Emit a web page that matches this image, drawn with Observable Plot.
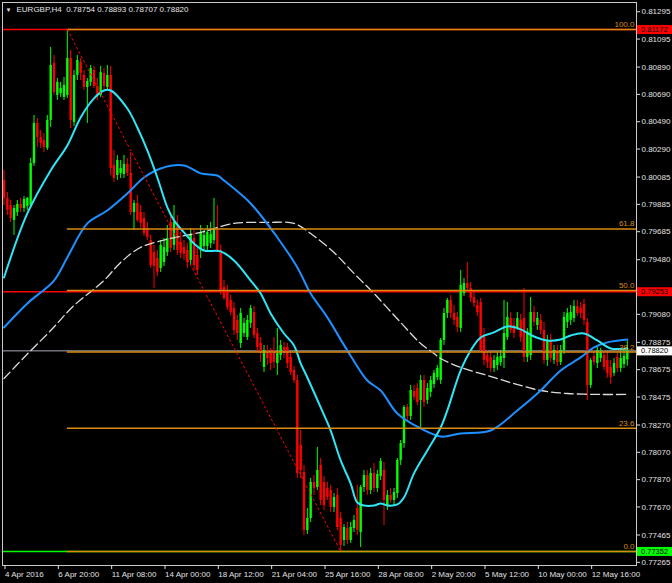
<!DOCTYPE html>
<html><head><meta charset="utf-8">
<script src="https://cdn.jsdelivr.net/npm/d3@7"></script>
<script src="https://cdn.jsdelivr.net/npm/@observablehq/plot@0.6"></script>
<style>
html,body{margin:0;padding:0;background:#000;}
#chart{width:672px;height:583px;overflow:hidden;}
</style></head><body><div id="chart"></div>
<script>
const symbol = "EURGBP";
const timeframe = "H4";

const open = [0.80067,0.79936,0.79884,0.79775,0.79833,0.79892,0.79862,0.79877,0.79884,0.80192,
0.80485,0.80382,0.80360,0.80302,0.80507,0.80924,0.80690,0.80704,0.80675,0.80690,
0.80960,0.80492,0.80836,0.80931,0.80836,0.80748,0.80785,0.80873,0.80755,0.80690,
0.80851,0.80748,0.80836,0.80177,0.80104,0.80119,0.80111,0.80185,0.80119,0.79833,
0.79899,0.79833,0.79789,0.79716,0.79628,0.79540,0.79496,0.79423,0.79467,0.79540,
0.79760,0.79592,0.79731,0.79614,0.79577,0.79555,0.79482,0.79643,0.79518,0.79555,
0.79584,0.79584,0.79606,0.79628,0.79701,0.79555,0.79284,0.79262,0.79189,0.79130,
0.79043,0.78874,0.78947,0.78918,0.79021,0.79101,0.78947,0.78874,0.78699,0.78823,
0.78801,0.78823,0.78728,0.78786,0.78845,0.78845,0.78772,0.78677,0.78603,0.78128,
0.77930,0.77505,0.77593,0.77857,0.77820,0.77981,0.77857,0.77813,0.77798,0.77674,
0.77762,0.77593,0.77432,0.77520,0.77432,0.77520,0.77666,0.77491,0.77820,0.77908,
0.77798,0.77923,0.77813,0.77901,0.77945,0.77688,0.77762,0.77725,0.77776,0.78018,
0.78142,0.78406,0.78340,0.78523,0.78545,0.78457,0.78603,0.78457,0.78516,0.78574,
0.78625,0.78603,0.78896,0.79094,0.79189,0.79094,0.79065,0.78984,0.79240,0.79313,
0.79277,0.79211,0.79152,0.79174,0.78933,0.78786,0.78772,0.78691,0.78713,0.78735,
0.78764,0.78918,0.79057,0.79006,0.78984,0.79043,0.79057,0.78772,0.78786,0.79101,
0.79006,0.79043,0.78969,0.78750,0.78896,0.78750,0.78823,0.78735,0.78823,0.79028,
0.79043,0.79057,0.79145,0.79130,0.79160,0.79028,0.78567,0.78779,0.78728,0.78764,
0.78786,0.78750,0.78699,0.78655,0.78772,0.78691,0.78721,0.78754];
const high = [0.80141,0.79980,0.79921,0.79884,0.79921,0.79936,0.79950,0.79943,0.80228,0.80543,
0.80521,0.80433,0.80411,0.80543,0.81041,0.80982,0.80814,0.80785,0.80821,0.81172,
0.81019,0.80873,0.80982,0.80960,0.80873,0.80814,0.80909,0.80902,0.80814,0.80902,
0.80887,0.80909,0.80902,0.80287,0.80250,0.80214,0.80250,0.80228,0.80272,0.79921,
0.79958,0.79884,0.79833,0.79760,0.79665,0.79592,0.79555,0.79628,0.79643,0.79738,
0.79811,0.79884,0.79811,0.79687,0.79628,0.79606,0.79716,0.79701,0.79570,0.79738,
0.79701,0.79738,0.79760,0.79936,0.79884,0.79592,0.79335,0.79299,0.79226,0.79174,
0.79079,0.79130,0.79057,0.79079,0.79152,0.79145,0.78984,0.78918,0.78860,0.78860,
0.78838,0.78918,0.78984,0.78896,0.78882,0.78874,0.78808,0.78706,0.78640,0.78237,
0.77981,0.77666,0.77886,0.77908,0.78113,0.78032,0.77901,0.77857,0.77835,0.77776,
0.77813,0.77637,0.77549,0.77564,0.77564,0.77615,0.77835,0.77835,0.77945,0.77945,
0.77959,0.77996,0.77945,0.78032,0.78003,0.77798,0.77813,0.77813,0.78032,0.78164,
0.78420,0.78428,0.78567,0.78567,0.78581,0.78640,0.78640,0.78581,0.78633,0.78677,
0.78713,0.78911,0.79130,0.79204,0.79226,0.79152,0.79101,0.79409,0.79350,0.79467,
0.79321,0.79248,0.79189,0.79204,0.78984,0.78823,0.78808,0.78786,0.78808,0.78823,
0.79189,0.79174,0.79101,0.79057,0.79101,0.79086,0.79277,0.78984,0.79211,0.79145,
0.79101,0.79086,0.79028,0.78933,0.78940,0.78860,0.78860,0.78860,0.79101,0.79130,
0.79152,0.79189,0.79189,0.79174,0.79196,0.79057,0.78764,0.78823,0.78860,0.78838,
0.78823,0.78808,0.78750,0.78764,0.78823,0.78823,0.78838,0.78893];
const low = [0.79884,0.79811,0.79760,0.79665,0.79804,0.79833,0.79833,0.79848,0.79862,0.80170,
0.80309,0.80302,0.80272,0.80287,0.80455,0.80690,0.80653,0.80675,0.80653,0.80668,
0.80448,0.80463,0.80799,0.80799,0.80726,0.80485,0.80755,0.80741,0.80653,0.80675,
0.80726,0.80726,0.80104,0.80053,0.80067,0.80082,0.80082,0.80097,0.79811,0.79701,
0.79760,0.79716,0.79657,0.79628,0.79423,0.79277,0.79365,0.79394,0.79438,0.79511,
0.79540,0.79555,0.79518,0.79496,0.79482,0.79423,0.79445,0.79409,0.79372,0.79496,
0.79555,0.79555,0.79570,0.79599,0.79540,0.79226,0.79189,0.79116,0.79079,0.78933,
0.78896,0.78838,0.78918,0.78896,0.78984,0.78911,0.78808,0.78735,0.78662,0.78713,
0.78677,0.78691,0.78640,0.78750,0.78764,0.78691,0.78640,0.78581,0.77886,0.77886,
0.77469,0.77476,0.77564,0.77762,0.77798,0.77688,0.77652,0.77725,0.77637,0.77637,
0.77505,0.77352,0.77388,0.77403,0.77410,0.77491,0.77469,0.77381,0.77784,0.77762,
0.77769,0.77784,0.77784,0.77871,0.77542,0.77652,0.77703,0.77688,0.77740,0.77981,
0.78106,0.78311,0.78311,0.78457,0.78420,0.78252,0.78406,0.78428,0.78479,0.78545,
0.78603,0.78574,0.78860,0.79057,0.79057,0.79006,0.78955,0.78955,0.79218,0.79248,
0.79174,0.79138,0.79072,0.78808,0.78713,0.78691,0.78662,0.78662,0.78677,0.78706,
0.78691,0.78896,0.78947,0.78911,0.78969,0.78882,0.78735,0.78735,0.78750,0.78999,
0.78969,0.78940,0.78721,0.78706,0.78735,0.78721,0.78706,0.78713,0.78794,0.78984,
0.79006,0.79028,0.79072,0.79057,0.79006,0.78457,0.78545,0.78713,0.78691,0.78735,
0.78677,0.78618,0.78574,0.78633,0.78662,0.78662,0.78691,0.78707];
const close = [0.79936,0.79848,0.79789,0.79862,0.79892,0.79862,0.79928,0.79936,0.80192,0.80485,
0.80382,0.80338,0.80309,0.80507,0.80909,0.80712,0.80785,0.80741,0.80763,0.80960,
0.80507,0.80836,0.80946,0.80851,0.80748,0.80792,0.80887,0.80755,0.80690,0.80858,
0.80755,0.80836,0.80155,0.80082,0.80214,0.80155,0.80185,0.80119,0.79833,0.79899,
0.79775,0.79753,0.79679,0.79650,0.79445,0.79438,0.79394,0.79592,0.79577,0.79643,
0.79570,0.79760,0.79555,0.79533,0.79526,0.79467,0.79672,0.79445,0.79409,0.79687,
0.79665,0.79687,0.79672,0.79709,0.79555,0.79262,0.79204,0.79138,0.79101,0.78969,
0.78947,0.79094,0.79021,0.79043,0.79130,0.78933,0.78845,0.78801,0.78823,0.78764,
0.78728,0.78735,0.78801,0.78860,0.78801,0.78728,0.78662,0.78603,0.77923,0.77945,
0.77505,0.77593,0.77857,0.77813,0.77945,0.77725,0.77688,0.77747,0.77674,0.77747,
0.77527,0.77396,0.77527,0.77432,0.77527,0.77579,0.77505,0.77820,0.77908,0.77798,
0.77923,0.77813,0.77915,0.78010,0.77725,0.77762,0.77725,0.77784,0.78018,0.78142,
0.78406,0.78340,0.78530,0.78479,0.78442,0.78603,0.78442,0.78545,0.78603,0.78655,
0.78691,0.78896,0.79094,0.79189,0.79094,0.79043,0.78991,0.79299,0.79313,0.79277,
0.79204,0.79167,0.79101,0.78823,0.78750,0.78735,0.78691,0.78750,0.78772,0.78779,
0.78947,0.79065,0.78969,0.78947,0.79057,0.78918,0.78772,0.78955,0.79101,0.79028,
0.79057,0.78969,0.78750,0.78896,0.78764,0.78823,0.78735,0.78823,0.79065,0.79094,
0.79101,0.79145,0.79094,0.79094,0.79043,0.78567,0.78750,0.78735,0.78823,0.78808,
0.78699,0.78655,0.78625,0.78728,0.78691,0.78764,0.78779,0.78820];

// time axis labels (bar index of each label)
const timeLabelBars = [0,16,32,48,64,80,96,112,128,144,160,176];
const timeLabels = ["4 Apr 2016","6 Apr 20:00","11 Apr 08:00","14 Apr 00:00","18 Apr 12:00","21 Apr 04:00",
  "25 Apr 16:00","28 Apr 08:00","2 May 20:00","5 May 12:00","10 May 00:00","12 May 16:00"];

// price axis labels
const priceTicks = [0.81295,0.81095,0.80890,0.80690,0.80490,0.80290,0.80085,0.79885,0.79685,0.79480,
  0.79080,0.78875,0.78675,0.78475,0.78270,0.78070,0.77870,0.77670,0.77465,0.77265];

// moving averages: [bar, price]
const maFast = [[0,0.79357],[7,0.79826],[14,0.80141],[19,0.80324],[23,0.80529],[27,0.80668],[30,0.80726],[32,0.80726],
  [37,0.80594],[40,0.80455],[43,0.80287],[46,0.80089],[49,0.79870],[51,0.79775],[54,0.79687],[57,0.79606],[60,0.79555],
  [65,0.79548],[69,0.79482],[74,0.79335],[77,0.79240],[80,0.79094],[84,0.78947],[87,0.78860],[89,0.78728],[91,0.78625],
  [95,0.78406],[98,0.78237],[101,0.78018],[104,0.77849],[106,0.77710],[108,0.77688],[111,0.77688],[113,0.77703],
  [115,0.77688],[118,0.77696],[120,0.77747],[123,0.77923],[127,0.78091],[131,0.78259],[133,0.78384],[137,0.78677],
  [140,0.78823],[143,0.78918],[147,0.78955],[151,0.78999],[155,0.78977],[159,0.78925],[163,0.78896],[167,0.78903],
  [170,0.78933],[174,0.78947],[178,0.78896],[182,0.78838],[187,0.78838]];
const maMid = [[0,0.78991],[7,0.79167],[15,0.79335],[19,0.79504],[25,0.79753],[31,0.79848],[37,0.79972],[42,0.80089],
  [47,0.80155],[54,0.80177],[59,0.80119],[64,0.80104],[66,0.80067],[74,0.79899],[82,0.79650],[88,0.79431],[92,0.79240],
  [97,0.79065],[103,0.78823],[109,0.78603],[113,0.78530],[118,0.78362],[125,0.78252],[131,0.78193],[137,0.78215],
  [146,0.78237],[154,0.78384],[161,0.78530],[167,0.78677],[173,0.78772],[177,0.78845],[181,0.78882],[187,0.78903]];
const maSlow = [[0,0.78618],[6,0.78772],[14,0.78969],[21,0.79152],[30,0.79335],[35,0.79467],[41,0.79577],[50,0.79643],
  [59,0.79687],[69,0.79753],[79,0.79760],[87,0.79753],[92,0.79679],[99,0.79540],[105,0.79387],[111,0.79240],[119,0.79028],
  [125,0.78874],[129,0.78801],[131,0.78764],[137,0.78699],[145,0.78640],[153,0.78581],[161,0.78530],[169,0.78508],
  [179,0.78501],[187,0.78501]];

// Fibonacci retracement
const fibHighPrice = 0.81172, fibLowPrice = 0.77352;
const fibHighBar = 19, fibLowBar = 101;
const fibLevels = [0, 23.6, 38.2, 50, 61.8, 100];

// horizontal lines and their axis labels
const hLinePrices = [0.81172, 0.79253, 0.77352];
const hLineColors = ["#ff0000", "#ff0000", "#00ff00"];

const font = "'Liberation Sans', Arial, sans-serif";
const xDomain = [-0.45, 189.75];
const yDomain = [0.77249, 0.81370];
const orange = "#d98c10";
const bull = "#00ff00", bear = "#ff0000";

const bars = open.map((o, i) => ({i, o, h: high[i], l: low[i], c: close[i]}));
const last = bars[bars.length - 1];
const bidPrice = last.c;
const fibs = fibLevels.map(level => ({level, price: fibLowPrice + (fibHighPrice - fibLowPrice) * level / 100}));
const hLines = hLinePrices.map((price, k) => ({price, color: hLineColors[k]}));
const boxes = [
  ...hLines.map(d => ({price: d.price, bg: d.color, fg: "#000000"})),
  {price: bidPrice, bg: "#ffffff", fg: "#000000"}
];
const title = `${symbol},${timeframe}  ${[last.o, last.h, last.l, last.c].map(v => v.toFixed(5)).join(" ")}`;
const candleColor = d => d.c >= d.o ? bull : bear;

function priceBoxes(index, scales, values, dimensions) {
  const g = d3.create("svg:g").attr("text-anchor", "start");
  const x0 = dimensions.width - dimensions.marginRight + 1;
  for (const b of boxes) {
    const y = scales.y(b.price);
    g.append("rect").attr("x", x0).attr("y", y - 4).attr("width", dimensions.marginRight - 1).attr("height", 9).attr("fill", b.bg);
    g.append("text").attr("x", x0 + 4).attr("y", y + 0.5).attr("dy", "0.35em").attr("text-anchor", "start")
      .attr("fill", b.fg).attr("font-size", 7.5).attr("font-family", font).text(b.price.toFixed(5));
  }
  return g.node();
}

const chart = Plot.plot({
  width: 672, height: 583,
  marginTop: 2, marginRight: 36, marginBottom: 18, marginLeft: 2,
  style: {background: "#000000", fontFamily: font, fontSize: "8px", color: "#e0e0e0"},
  x: {type: "linear", domain: xDomain, axis: null},
  y: {type: "linear", domain: yDomain, axis: null},
  marks: [
    Plot.ruleY(hLines, {y: "price", stroke: "color", strokeWidth: 1.5}),
    Plot.ruleY([bidPrice], {stroke: "#a8acb4", strokeWidth: 1}),
    Plot.ruleX(bars, {x: "i", y1: "l", y2: "h", stroke: candleColor, strokeWidth: 1}),
    Plot.ruleX(bars, {x: "i", y1: "o", y2: "c", stroke: candleColor, strokeWidth: 2.4}),
    Plot.line(maSlow, {x: d => d[0], y: d => d[1], stroke: "#dcdcdc", strokeWidth: 1.3, strokeDasharray: "9,4", curve: "catmull-rom"}),
    Plot.line(maMid, {x: d => d[0], y: d => d[1], stroke: "#1e90ff", strokeWidth: 2, curve: "catmull-rom"}),
    Plot.line(maFast, {x: d => d[0], y: d => d[1], stroke: "#2ee6f5", strokeWidth: 2, curve: "catmull-rom"}),
    Plot.ruleY(fibs, {y: "price", x1: fibHighBar, x2: xDomain[1], stroke: orange, strokeWidth: 1.5}),
    Plot.text(fibs, {x: xDomain[1], y: "price", text: d => d.level.toFixed(1), textAnchor: "end", dx: -2, dy: -5, fill: orange, fontSize: 8}),
    Plot.line([[fibHighBar, fibHighPrice], [fibLowBar, fibLowPrice]], {x: d => d[0], y: d => d[1], stroke: "#ff0000", strokeWidth: 1, strokeDasharray: "2,3"}),
    Plot.frame({stroke: "#c8c8c8", strokeWidth: 1}),
    Plot.axisY({anchor: "right", ticks: priceTicks, tickFormat: d => d.toFixed(5), tickSize: 3, tickPadding: 2, dy: -1, fontSize: 8, color: "#e0e0e0", label: null}),
    Plot.axisX({anchor: "bottom", ticks: timeLabelBars, tickFormat: d => timeLabels[timeLabelBars.indexOf(d)], tickSize: 4, tickPadding: 2, textAnchor: "start", dx: 1, fontSize: 8, color: "#e0e0e0", label: null}),
    Plot.text([title], {frameAnchor: "top-left", dx: 14, dy: 4, lineAnchor: "top", fill: "#e6e6e6", fontSize: 8}),
    Plot.text(["▼"], {frameAnchor: "top-left", dx: 3, dy: 5, lineAnchor: "top", fill: "#e6e6e6", fontSize: 6}),
    priceBoxes
  ]
});
document.getElementById("chart").appendChild(chart);
</script>
</body></html>
